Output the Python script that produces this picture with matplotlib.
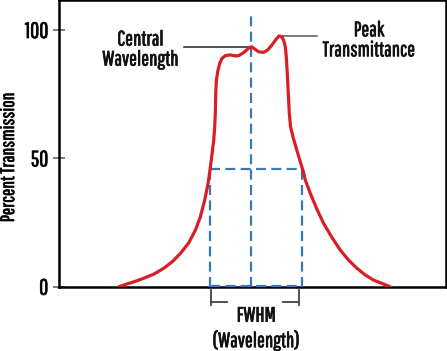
import matplotlib
matplotlib.use("Agg")
from matplotlib import pyplot as plt
from matplotlib import patheffects

plt.rcParams["font.family"] = ["Pathway Gothic One", "Fira Sans Extra Condensed", "DejaVu Sans"]

# filter transmission curve (arbitrary wavelength units)
wavelength = [60.3, 68.7, 75.3, 85.3, 95.3, 105.3, 113.7, 122, 130.3, 137, 142,
              146.3, 149.7, 152, 153.7, 155.3, 156.3, 157, 157.3, 158, 159.3,
              161.3, 163.7, 167, 172, 177, 180.3, 185.3, 190.3, 193, 196, 200.3,
              205.3, 209.3, 213.7, 218, 220.7, 223.3, 225.3, 227, 228, 229, 230,
              231, 232.3, 234.7, 238, 242, 245.3, 247, 252, 258.7, 265.3, 273.7,
              282, 290.3, 298.7, 307, 315.3, 323.7, 332]
transmission = [0, 1.1, 1.9, 3.3, 4.9, 7.2, 9.7, 13.0, 17.1, 22.1, 27.3, 33.8,
                40.3, 46.7, 52.0, 57.1, 62.3, 68.8, 75.3, 80.5, 83.8, 87.0, 89.0,
                90.0, 90.3, 89.9, 90.0, 91.2, 92.9, 93.5, 92.7, 91.5, 91.3, 92.2,
                94.2, 96.5, 97.7, 97.4, 96.1, 93.5, 89.6, 83.1, 75.3, 67.5, 62.3,
                58.4, 53.9, 48.7, 44.5, 41.6, 36.4, 30.2, 24.7, 19.2, 14.3, 10.4,
                7.2, 4.6, 2.6, 1.3, 0]

central_wl = 193
central_t = 93.5
peak_wl = 221
peak_t = 97.7
half_level = 45.8
fwhm_left, fwhm_right = 151.5, 244

y_ticks = [0, 50, 100]

RED = "#d81f26"
BLUE = "#3a78b5"
GREY = "#444444"

# slightly heavier strokes for the light condensed face
bold_fx = [patheffects.withStroke(linewidth=0.5, foreground="#111111")]

fig = plt.figure(figsize=(4.47, 3.51), dpi=100)
ax = fig.add_axes([0.1313, 0.1832, 0.8665, 0.8154])

ax.plot(wavelength, transmission, color=RED, lw=2.3, solid_capstyle="round",
        solid_joinstyle="round", zorder=4)

dash = dict(color=BLUE, lw=1.6, dashes=(4.5, 2.4), zorder=3, clip_on=False)
ax.plot([central_wl, central_wl], [0, 107], **dash)
ax.plot([fwhm_left, fwhm_right], [half_level, half_level], **dash)
ax.plot([fwhm_left, fwhm_left], [0, half_level], **dash)
ax.plot([fwhm_right, fwhm_right], [0, half_level], **dash)
ax.plot([fwhm_left, fwhm_right], [0.3, 0.3], **dash)

# annotation leader lines
ax.plot([126, central_wl], [central_t, central_t], color="#222222", lw=1.1, zorder=2)
ax.plot([peak_wl, 259], [peak_t, peak_t], color="#555555", lw=1.1, zorder=2)

txt = dict(ha="center", va="center", fontsize=15, color="#111111",
           path_effects=bold_fx)
ax.text(82, 92.4, "Central\nWavelength", linespacing=1.0, **txt)
ax.text(311, 96, "Peak\nTransmittance", linespacing=1.0, **txt)

# FWHM bracket under the axis
br = dict(color=GREY, lw=1.3, clip_on=False)
ax.plot([fwhm_left + 1, fwhm_left + 1], [-1.3, -7.1], **br)
ax.plot([fwhm_left + 1, 169], [-6, -6], **br)
ax.plot([225, 241], [-6, -6], **br)
ax.plot([241, 241], [-1.3, -7.1], **br)
ax.text(198, -11.3, "FWHM", **txt)
ax.text(198, -21, "(Wavelength)", **txt)

ax.set_xlim(0, 388)
ax.set_ylim(0, 111.5)
ax.set_xticks([])
ax.set_yticks(y_ticks)
ax.set_yticklabels([str(t) for t in y_ticks])
ax.tick_params(axis="y", direction="inout", length=9, width=1.1, color="#555555",
               labelsize=16, pad=3)
for lbl in ax.get_yticklabels():
    lbl.set_path_effects(bold_fx)
for s in ax.spines.values():
    s.set_linewidth(1.8)
    s.set_color("black")

ax.set_ylabel("Percent Transmission", fontsize=14, path_effects=bold_fx)
ax.yaxis.set_label_coords(-0.105, 0.453)

fig.savefig("out.png", dpi=100)
